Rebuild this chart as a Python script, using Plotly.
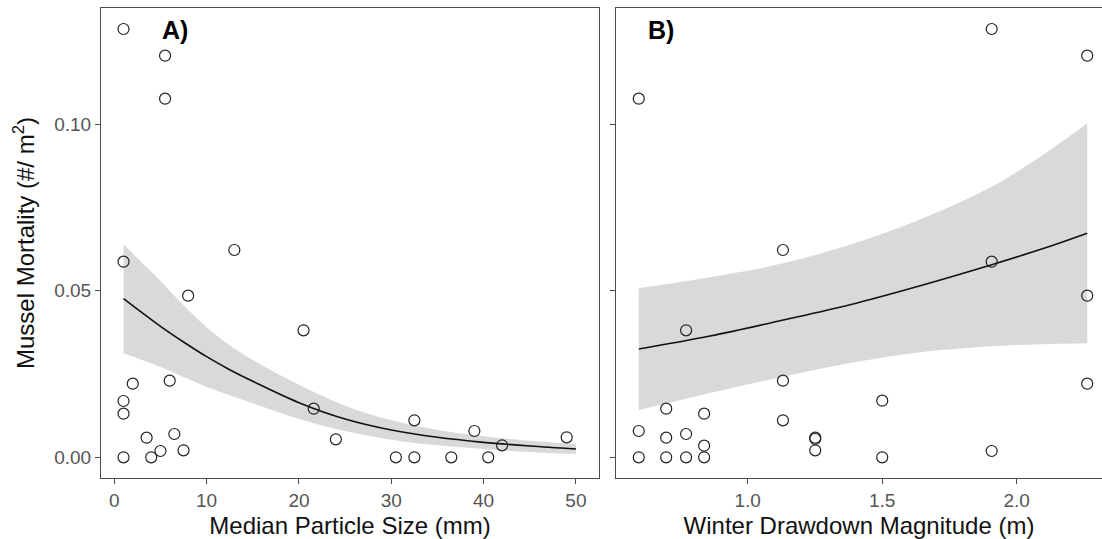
import plotly.graph_objects as go

# ---------------- data ----------------
# Panel A: median particle size (mm) vs mussel mortality
size_mm = [1.0, 5.5, 5.5, 13.0, 1.0, 8.0, 20.5, 2.0, 6.0, 1.0, 1.0, 3.5, 6.5, 1.0,
           4.0, 5.0, 7.5, 21.6, 24.0, 30.5, 32.5, 32.5, 36.5, 39.0, 40.5, 42.0, 49.0]
mort_A = [0.1285, 0.1205, 0.1076, 0.0622, 0.0587, 0.0485, 0.0381, 0.0221, 0.0230,
          0.0169, 0.0131, 0.0059, 0.0070, 0.0, 0.0, 0.0019, 0.0021, 0.0146, 0.0054,
          0.0, 0.0111, 0.0, 0.0, 0.0079, 0.0, 0.0036, 0.0060]

fitA_x = [1, 3, 5, 7.5, 10, 12.5, 15, 20, 25, 30, 35, 40, 45, 50]
fitA_y = [0.0476, 0.0434, 0.0393, 0.0346, 0.0302, 0.0263, 0.0228, 0.0164, 0.0115, 0.0082, 0.0060, 0.0045, 0.0034, 0.0025]
fitA_hi = [0.0639, 0.0584, 0.0530, 0.0456, 0.0390, 0.0336, 0.0292, 0.0218, 0.0155, 0.0111, 0.0082, 0.0063, 0.0050, 0.0040]
fitA_lo = [0.0312, 0.0292, 0.0271, 0.0241, 0.0211, 0.0186, 0.0162, 0.0115, 0.0079, 0.0053, 0.0036, 0.0025, 0.0016, 0.0010]

# Panel B: winter drawdown magnitude (m) vs mussel mortality
drawdown_m = [1.907, 2.262, 0.595, 1.131, 1.907, 2.262, 0.771, 1.131, 2.262, 1.5, 0.697,
              0.838, 1.131, 0.595, 0.697, 0.771, 1.251, 1.251, 0.838, 1.251, 1.907,
              0.595, 0.697, 0.771, 0.838, 1.5]
mort_B = [0.1285, 0.1205, 0.1076, 0.0622, 0.0587, 0.0485, 0.0381, 0.0230, 0.0221, 0.0170,
          0.0146, 0.0131, 0.0111, 0.0079, 0.0059, 0.0070, 0.0059, 0.0055, 0.0035, 0.0021,
          0.0019, 0.0, 0.0, 0.0, 0.0, 0.0]

fitB_x = [0.595, 0.86, 1.132, 1.38, 1.628, 1.907, 2.124, 2.262]
fitB_y = [0.0325, 0.0364, 0.0412, 0.0458, 0.0512, 0.0578, 0.0633, 0.0672]
fitB_hi = [0.0507, 0.0540, 0.0582, 0.0638, 0.0710, 0.0812, 0.0922, 0.1002]
fitB_lo = [0.0142, 0.0193, 0.0242, 0.0283, 0.0314, 0.0333, 0.0340, 0.0342]

y_ticks = [0.0, 0.05, 0.10]
y_ticklabels = ["0.00", "0.05", "0.10"]
xA_ticks = [0, 10, 20, 30, 40, 50]
xB_ticks = [1.0, 1.5, 2.0]
xB_ticklabels = ["1.0", "1.5", "2.0"]

# ---------------- figure ----------------
FONT = "Liberation Sans, Arial, Helvetica, sans-serif"
RIBBON = "#d9d9d9"
fig = go.Figure()


def add_panel(fig, xa, ya, fx, fy, flo, fhi, px, py):
    fig.add_trace(go.Scatter(x=fx, y=flo, mode="lines", line=dict(width=0, shape="spline", color=RIBBON),
                             xaxis=xa, yaxis=ya, showlegend=False, hoverinfo="skip"))
    fig.add_trace(go.Scatter(x=fx, y=fhi, mode="lines", line=dict(width=0, shape="spline", color=RIBBON),
                             fill="tonexty", fillcolor=RIBBON,
                             xaxis=xa, yaxis=ya, showlegend=False, hoverinfo="skip"))
    fig.add_trace(go.Scatter(x=fx, y=fy, mode="lines", line=dict(width=1.6, shape="spline", color="#111111"),
                             xaxis=xa, yaxis=ya, showlegend=False))
    fig.add_trace(go.Scatter(x=px, y=py, mode="markers",
                             marker=dict(symbol="circle-open", size=11, color="#222222",
                                         line=dict(width=1.2, color="#222222")),
                             xaxis=xa, yaxis=ya, showlegend=False))


add_panel(fig, "x", "y", fitA_x, fitA_y, fitA_lo, fitA_hi, size_mm, mort_A)
add_panel(fig, "x2", "y2", fitB_x, fitB_y, fitB_lo, fitB_hi, drawdown_m, mort_B)

axis_common = dict(showgrid=False, zeroline=False, showline=True, linecolor="#4d4d4d", linewidth=1,
                   ticks="outside", ticklen=5, tickwidth=1, tickcolor="#4d4d4d",
                   tickfont=dict(family=FONT, size=19, color="#555555"))

W, H = 1102, 539
ml, mr, mt, mb = 101, 0, 8, 61
pw = W - ml - mr

fig.update_layout(
    width=W, height=H,
    margin=dict(l=ml, r=mr, t=mt, b=mb),
    paper_bgcolor="white", plot_bgcolor="white",
    font=dict(family=FONT),
    xaxis=dict(**axis_common, domain=[0, 498 / pw], range=[-1.44, 52.5], mirror=True,
               tickvals=xA_ticks, anchor="y",
               title=dict(text="Median Particle Size (mm)", font=dict(family=FONT, size=24, color="#111111"),
                          standoff=7)),
    yaxis=dict(**axis_common, domain=[0, 1], range=[-0.0062, 0.1348], mirror=True,
               tickvals=y_ticks, ticktext=y_ticklabels, anchor="x",
               title=dict(text="Mussel Mortality (#/ m<sup>2</sup>)",
                          font=dict(family=FONT, size=24, color="#111111"), standoff=12)),
    xaxis2=dict(**axis_common, domain=[515 / pw, 1], range=[0.5104, 2.317], mirror=True,
                tickvals=xB_ticks, ticktext=xB_ticklabels, anchor="y2",
                title=dict(text="Winter Drawdown Magnitude (m)", font=dict(family=FONT, size=24, color="#111111"),
                           standoff=7)),
    yaxis2=dict(**axis_common, domain=[0, 1], range=[-0.0062, 0.1348], mirror=False,
                tickvals=y_ticks, showticklabels=False, anchor="x2"),
)

fig.add_annotation(x=4.95, y=0.1282, xref="x", yref="y", text="<b>A)</b>", showarrow=False,
                   xanchor="left", yanchor="middle", font=dict(family=FONT, size=25, color="black"))
fig.add_annotation(x=0.622, y=0.1282, xref="x2", yref="y2", text="<b>B)</b>", showarrow=False,
                   xanchor="left", yanchor="middle", font=dict(family=FONT, size=25, color="black"))

fig.write_html("out.html")
